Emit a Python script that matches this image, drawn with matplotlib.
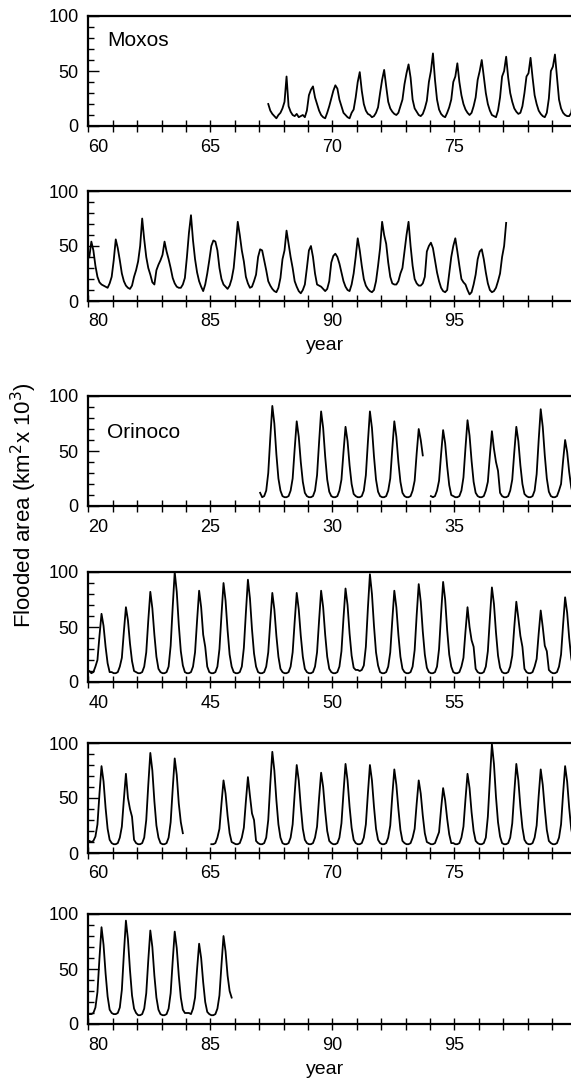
import numpy as np
import matplotlib.pyplot as plt
from matplotlib.ticker import MultipleLocator

plt.rcParams['font.family'] = ['Liberation Sans', 'DejaVu Sans']

nan = np.nan

# monthly flooded area (km2 x 10^3), Moxos plains, from May 1967
moxos_start = 1967 + 4 / 12
moxos_area = [
    20, 14, 11, 9, 7, 10, 12, 16,                      # 1967 May-Dec
    22, 45, 18, 13, 10, 9, 11, 8, 9, 10, 8, 14,        # 1968
    28, 33, 36, 26, 20, 14, 10, 8, 7, 12, 18, 25,      # 1969
    32, 37, 34, 24, 18, 12, 10, 8, 7, 12, 15, 26,      # 1970
    40, 49, 32, 20, 14, 11, 10, 8, 9, 12, 17, 30,      # 1971
    42, 51, 36, 22, 16, 13, 11, 10, 12, 18, 24, 38,    # 1972
    48, 56, 44, 24, 16, 13, 10, 9, 11, 16, 23, 40,     # 1973
    50, 66, 42, 24, 15, 11, 9, 8, 12, 17, 24, 40,      # 1974
    45, 57, 40, 28, 20, 15, 12, 10, 12, 18, 26, 42,    # 1975
    50, 60, 45, 30, 20, 14, 10, 9, 8, 14, 26, 45,      # 1976
    50, 63, 44, 30, 22, 16, 13, 11, 12, 18, 30, 45,    # 1977
    48, 62, 44, 28, 20, 14, 11, 9, 8, 12, 25, 50,      # 1978
    54, 65, 45, 24, 16, 12, 10, 9, 9, 12, 25, 38,      # 1979
    40, 54, 46, 32, 22, 17, 15, 14, 13, 12, 16, 22,    # 1980
    37, 56, 48, 37, 25, 18, 14, 12, 11, 14, 22, 28,    # 1981
    36, 50, 75, 56, 40, 30, 24, 17, 15, 28, 33, 37,    # 1982
    42, 54, 45, 38, 30, 21, 16, 13, 12, 12, 15, 21,    # 1983
    40, 62, 78, 55, 38, 26, 18, 13, 9, 15, 25, 37,     # 1984
    50, 55, 54, 46, 30, 20, 15, 13, 11, 14, 20, 30,    # 1985
    50, 72, 60, 46, 36, 22, 16, 12, 13, 18, 24, 40,    # 1986
    47, 46, 37, 28, 18, 14, 11, 9, 8, 12, 21, 38,      # 1987
    46, 64, 52, 40, 30, 18, 13, 9, 7, 10, 15, 30,      # 1988
    46, 50, 40, 25, 15, 14, 13, 11, 9, 11, 18, 35,     # 1989
    41, 43, 40, 34, 26, 18, 13, 10, 9, 15, 25, 40,     # 1990
    57, 46, 32, 20, 14, 11, 9, 8, 10, 18, 32, 48,      # 1991
    72, 60, 52, 35, 22, 16, 15, 15, 18, 25, 30, 45,    # 1992
    60, 72, 50, 32, 20, 16, 14, 14, 16, 22, 45, 50,    # 1993
    53, 48, 37, 26, 18, 12, 9, 8, 10, 25, 40, 50,      # 1994
    57, 45, 32, 20, 17, 15, 10, 6, 8, 15, 24, 38,      # 1995
    45, 47, 38, 26, 16, 10, 8, 9, 12, 18, 25, 40,      # 1996
    50, 71,                                            # 1997 Jan-Feb
]

# monthly flooded area (km2 x 10^3), Orinoco llanos, from Jan 1927
orinoco_start = 1927.0
orinoco_area = [
    12, 8, 9, 14, 30, 62, 91, 75, 47, 25, 14, 9,       # 1927
    8, 8, 9, 14, 25, 52, 77, 63, 40, 22, 12, 9,        # 1928
    8, 8, 9, 14, 28, 58, 86, 71, 45, 24, 13, 9,        # 1929
    8, 8, 9, 14, 24, 49, 72, 59, 37, 20, 11, 9,        # 1930
    8, 8, 9, 14, 28, 58, 86, 71, 45, 24, 13, 9,        # 1931
    8, 8, 9, 14, 25, 52, 77, 63, 40, 22, 12, 9,        # 1932
    8, 8, 9, 14, 23, 48, 70, 60, 46, nan, nan, nan,    # 1933
    9, 8, 9, 14, 23, 47, 69, 57, 36, 19, 10, 9,        # 1934
    8, 8, 9, 14, 26, 53, 78, 64, 41, 22, 12, 9,        # 1935
    8, 8, 9, 14, 22, 46, 68, 52, 40, 32, 12, 9,        # 1936
    8, 8, 9, 14, 24, 49, 72, 59, 37, 20, 11, 9,        # 1937
    8, 8, 9, 14, 29, 60, 88, 72, 46, 25, 13, 9,        # 1938
    8, 8, 9, 14, 20, 41, 60, 49, 31, 17, 9, 9,         # 1939
    10, 8, 9, 14, 20, 42, 62, 51, 32, 17, 9, 9,        # 1940
    8, 8, 9, 14, 22, 46, 68, 56, 35, 19, 10, 9,        # 1941
    8, 8, 9, 14, 27, 56, 82, 67, 43, 23, 12, 9,        # 1942
    8, 8, 9, 14, 33, 68, 100, 82, 52, 28, 15, 9,       # 1943
    8, 8, 9, 14, 27, 56, 83, 68, 43, 32, 14, 9,        # 1944
    8, 8, 9, 14, 30, 61, 90, 74, 47, 25, 14, 9,        # 1945
    8, 8, 9, 14, 31, 63, 93, 76, 48, 26, 14, 9,        # 1946
    8, 8, 9, 14, 27, 55, 81, 66, 42, 23, 12, 9,        # 1947
    8, 8, 9, 14, 27, 55, 81, 66, 42, 23, 12, 9,        # 1948
    8, 8, 9, 14, 27, 56, 83, 68, 43, 23, 12, 9,        # 1949
    8, 8, 9, 14, 28, 58, 85, 70, 44, 24, 13, 11,       # 1950
    11, 10, 11, 15, 32, 67, 98, 80, 51, 27, 15, 9,     # 1951
    8, 8, 9, 14, 27, 56, 83, 68, 43, 23, 12, 9,        # 1952
    8, 8, 9, 14, 29, 61, 89, 73, 46, 25, 13, 9,        # 1953
    8, 8, 9, 14, 30, 62, 91, 75, 47, 25, 14, 9,        # 1954
    8, 8, 9, 14, 22, 46, 68, 50, 38, 32, 12, 9,        # 1955
    8, 8, 9, 14, 28, 58, 86, 71, 45, 24, 13, 9,        # 1956
    8, 8, 9, 14, 24, 50, 73, 58, 42, 32, 12, 9,        # 1957
    8, 8, 9, 14, 21, 44, 65, 50, 33, 28, 11, 9,        # 1958
    8, 8, 9, 14, 25, 52, 77, 63, 40, 22, 12, 9,        # 1959
    11, 10, 11, 15, 26, 54, 79, 65, 41, 22, 12, 9,     # 1960
    8, 8, 9, 14, 24, 49, 72, 50, 40, 33, 12, 9,        # 1961
    8, 8, 9, 14, 30, 62, 91, 75, 47, 25, 14, 9,        # 1962
    8, 8, 9, 14, 28, 58, 86, 71, 45, 28, 18, nan,      # 1963
    nan, nan, nan, nan, nan, nan, nan, nan, nan, nan, nan, nan,  # 1964
    8, 8, 9, 14, 22, 45, 66, 54, 34, 18, 10, 9,        # 1965
    8, 8, 9, 14, 23, 47, 69, 52, 36, 30, 11, 9,        # 1966
    8, 8, 9, 14, 30, 63, 92, 75, 48, 26, 14, 9,        # 1967
    8, 8, 9, 14, 26, 54, 80, 66, 42, 22, 12, 9,        # 1968
    8, 8, 9, 14, 24, 50, 73, 60, 38, 20, 11, 9,        # 1969
    8, 8, 9, 14, 27, 55, 81, 66, 42, 23, 12, 9,        # 1970
    8, 8, 9, 14, 26, 54, 80, 66, 42, 22, 12, 9,        # 1971
    8, 8, 9, 14, 25, 52, 76, 62, 40, 21, 11, 9,        # 1972
    8, 8, 9, 14, 22, 45, 66, 54, 34, 18, 10, 9,        # 1973
    8, 8, 9, 14, 19, 40, 59, 48, 31, 17, 9, 9,         # 1974
    8, 8, 9, 14, 24, 49, 72, 59, 37, 20, 11, 9,        # 1975
    8, 8, 9, 14, 33, 67, 99, 81, 51, 28, 15, 9,        # 1976
    8, 8, 9, 14, 27, 55, 81, 66, 42, 23, 12, 9,        # 1977
    8, 8, 9, 14, 25, 52, 76, 62, 40, 21, 11, 9,        # 1978
    8, 8, 9, 14, 26, 54, 79, 65, 41, 22, 12, 9,        # 1979
    9, 9, 10, 15, 29, 60, 88, 72, 46, 25, 13, 10,      # 1980
    9, 9, 10, 15, 31, 64, 94, 77, 49, 26, 14, 10,      # 1981
    8, 8, 9, 14, 28, 58, 85, 70, 44, 24, 13, 9,        # 1982
    8, 8, 9, 14, 28, 57, 84, 69, 44, 24, 13, 10,       # 1983
    10, 10, 9, 14, 24, 50, 73, 60, 38, 20, 11, 9,      # 1984
    8, 8, 9, 14, 26, 54, 80, 66, 44, 30, 24,           # 1985 Jan-Nov
]

# (series, label, first year of panel); each panel spans 20 years
panels = [
    ("moxos", "Moxos", 60),
    ("moxos", None, 80),
    ("orinoco", "Orinoco", 20),
    ("orinoco", None, 40),
    ("orinoco", None, 60),
    ("orinoco", None, 80),
]
panel_tops = [16, 191, 396, 572, 743, 914]   # px from top of figure
panel_h = 110
W, H = 571, 1079

series = {}
for key, start, vals in [("moxos", moxos_start, moxos_area),
                         ("orinoco", orinoco_start, orinoco_area)]:
    vals = np.array(vals, dtype=float)
    t = start - 1900 + (np.arange(len(vals)) + 0.5) / 12
    series[key] = (t, vals)

fig = plt.figure(figsize=(W / 100, H / 100), dpi=100)

for (key, name, y0), top in zip(panels, panel_tops):
    # axes runs a bit past the right edge of the figure
    ax = fig.add_axes([88.3 / W, 1 - (top + panel_h) / H, 488 / W, panel_h / H])
    t, v = series[key]
    ax.plot(t, v, color='black', lw=1.3)
    ax.set_xlim(y0, y0 + 20)
    ax.set_ylim(0, 100)

    for side in ['left', 'bottom', 'top']:
        ax.spines[side].set_linewidth(1.6)
    ax.spines['right'].set_visible(False)

    ax.set_xticks([y0, y0 + 5, y0 + 10, y0 + 15])
    ax.set_xticklabels([str(y) for y in (y0, y0 + 5, y0 + 10, y0 + 15)])
    ax.xaxis.set_minor_locator(MultipleLocator(1))
    ax.tick_params(axis='x', which='both', direction='inout', length=8,
                   width=1, labelsize=13, pad=5)
    ax.get_xticklabels()[0].set_ha('left')

    ax.set_yticks([0, 50, 100])
    ax.yaxis.set_minor_locator(MultipleLocator(10))
    ax.tick_params(axis='y', which='major', direction='in', length=8,
                   width=1, labelsize=13, pad=7)
    ax.tick_params(axis='y', which='minor', direction='in', length=4.5,
                   width=1)

    if name:
        ax.text(0.038, 0.775 if key == "moxos" else 0.665, name,
                transform=ax.transAxes, fontsize=15, va='center', ha='left')

fig.text(325 / W, 1 - 346 / H, "year", fontsize=14, ha='center', va='center')
fig.text(325 / W, 1 - 1069 / H, "year", fontsize=14, ha='center', va='center')
fig.text(24 / W, 1 - 505 / H, "Flooded area (km$^2$x 10$^3$)", fontsize=16,
         rotation=90, ha='center', va='center')

fig.savefig("out.png", dpi=100)
